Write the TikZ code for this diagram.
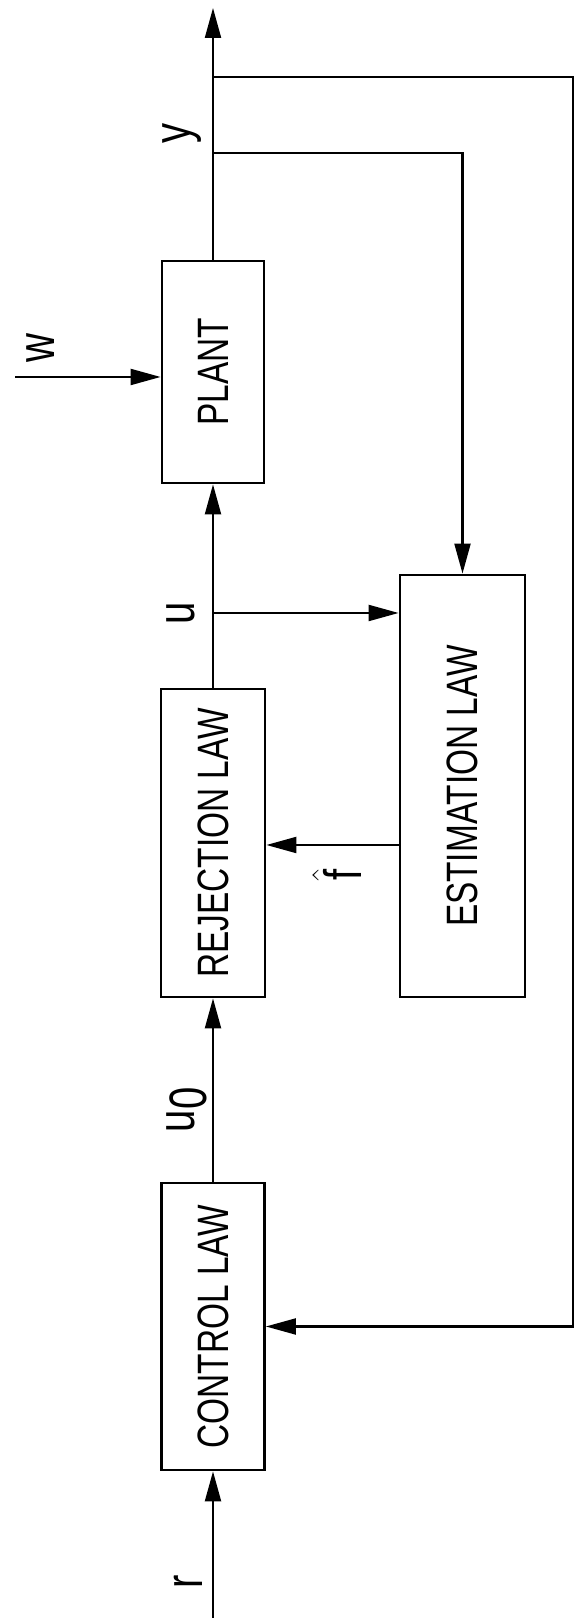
\documentclass[tikz,border=0pt]{standalone}
\usepackage{fontspec}
\setmainfont{Liberation Sans}[FakeStretch=0.76]
\usetikzlibrary{arrows.meta}
\newcommand{\vtext}[1]{\rotatebox{90}{#1}}
\tikzset{
  blk/.style={draw,line width=1.6pt,inner sep=0pt,font=\fontsize{25}{28}\selectfont},
  sig/.style={line width=1.2pt,-{Triangle[length=0.6cm,width=0.32cm]}},
  lbl/.style={inner sep=0pt,font=\fontsize{30}{32}\selectfont}
}
\begin{document}
\begin{tikzpicture}
  \useasboundingbox (0,0) rectangle (11.5,32.36);
  \node[blk,minimum width=2.04cm,minimum height=4.44cm] (plant) at (4.26,24.92) {\vtext{PLANT}};
  \node[blk,minimum width=2.08cm,minimum height=6.16cm] (rej) at (4.26,15.50) {\vtext{REJECTION LAW}};
  \node[blk,minimum width=2.06cm,minimum height=5.74cm] (ctrl) at (4.26,5.83) {\vtext{CONTROL LAW}};
  \node[blk,minimum width=2.5cm,minimum height=8.44cm] (est) at (9.25,16.64) {\vtext{ESTIMATION LAW}};
  \coordinate (yout) at (4.26,32.20);
  \coordinate (ytap1) at (4.26,30.82);
  \coordinate (ytap2) at (4.26,29.30);
  \coordinate (fbcorner) at (11.46,30.82);
  \coordinate (utap) at (4.26,20.10);
  \coordinate (fhrow) at (0,15.46);
  \coordinate (win) at (0.3,24.82);
  \coordinate (rin) at (4.26,0);
  \draw[sig] (plant.north) -- (yout);
  \draw[sig] (ytap1) -- (fbcorner) |- (ctrl.east);
  \draw[sig] (ytap2) -| (est.north);
  \draw[sig] (rej.north) -- (plant.south);
  \draw[sig] (utap) -- (utap -| est.west);
  \draw[sig] (est.west |- fhrow) -- (rej.east |- fhrow);
  \draw[sig] (ctrl.north) -- (rej.south);
  \draw[sig] (rin) -- (ctrl.south);
  \draw[sig] (win) -- (win -| plant.west);
  \node[lbl] (ylab) at (3.65,29.68) {\vtext{y}};
  \node[lbl] (wlab) at (0.82,25.40) {\vtext{w}};
  \node[lbl] (ulab) at (3.62,20.10) {\vtext{u}};
  \node[lbl] (fhlab) at (6.74,14.86) {\vtext{$\hat{\mbox{f}}$}};
  \node[lbl] (u0lab) at (3.74,10.16) {\vtext{u\raisebox{-0.45ex}{0}}};
  \node[lbl] (rlab) at (3.76,0.72) {\vtext{r}};
\end{tikzpicture}
\end{document}
